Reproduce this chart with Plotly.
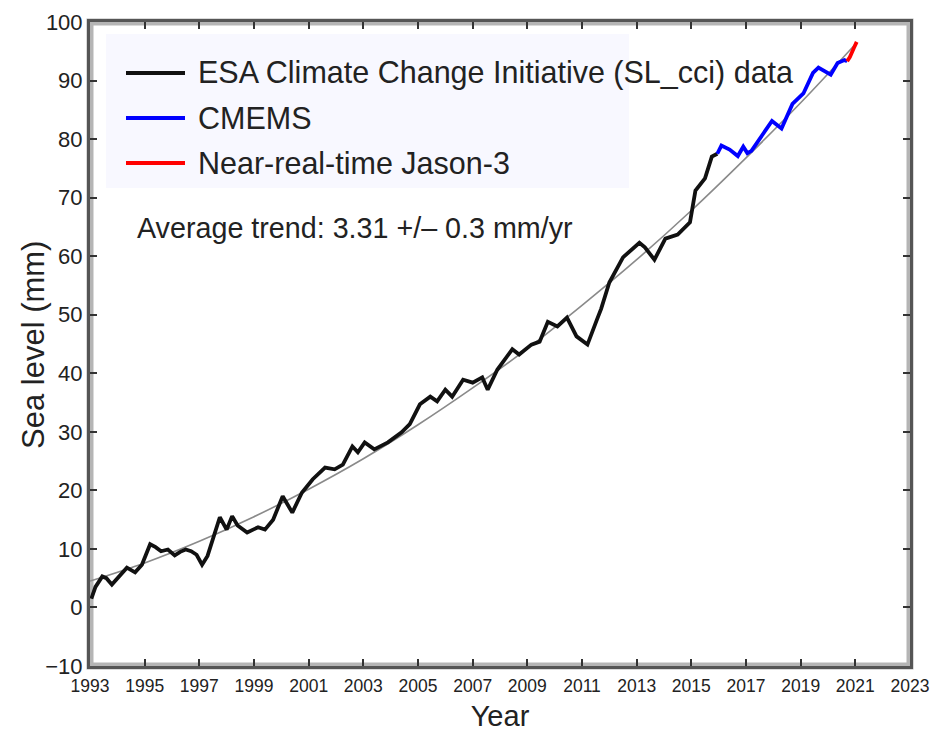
import plotly.graph_objects as go

# ESA Climate Change Initiative (SL_cci) global mean sea level, mm
esa_year = [1993.05, 1993.2, 1993.45, 1993.6, 1993.8, 1994.05, 1994.35, 1994.65, 1994.9,
            1995.2, 1995.4, 1995.6, 1995.85, 1996.1, 1996.3, 1996.5, 1996.7, 1996.9,
            1997.1, 1997.3, 1997.45, 1997.75, 1998.0, 1998.2, 1998.4, 1998.75, 1999.15,
            1999.4, 1999.7, 2000.05, 2000.4, 2000.75, 2001.15, 2001.6, 2001.95, 2002.25,
            2002.6, 2002.8, 2003.05, 2003.4, 2003.9, 2004.4, 2004.7, 2005.07, 2005.45,
            2005.7, 2006.0, 2006.25, 2006.65, 2007.0, 2007.35, 2007.55, 2007.9, 2008.45,
            2008.7, 2009.15, 2009.45, 2009.75, 2010.1, 2010.45, 2010.8, 2011.2, 2011.55,
            2011.7, 2012.0, 2012.5, 2013.1, 2013.3, 2013.65, 2014.05, 2014.5, 2014.95,
            2015.15, 2015.5, 2015.75, 2015.95]
esa_level = [1.5, 3.5, 5.3, 5.0, 3.9, 5.2, 6.8, 6.0, 7.3,
             10.8, 10.3, 9.6, 9.9, 8.9, 9.5, 9.9, 9.6, 9.0,
             7.3, 8.8, 11.1, 15.4, 13.3, 15.6, 14.0, 12.8, 13.7,
             13.3, 15.0, 19.0, 16.2, 19.6, 21.9, 23.9, 23.6, 24.4,
             27.5, 26.5, 28.2, 27.0, 28.2, 29.9, 31.3, 34.7, 36.0,
             35.2, 37.2, 36.0, 38.9, 38.4, 39.3, 37.2, 40.6, 44.1,
             43.2, 44.9, 45.4, 48.8, 48.0, 49.5, 46.3, 44.9, 49.2,
             51.0, 55.5, 59.8, 62.3, 61.5, 59.4, 63.0, 63.7, 65.8,
             71.2, 73.3, 77.0, 77.5]

# CMEMS record
cmems_year = [2015.95, 2016.1, 2016.4, 2016.7, 2016.9, 2017.05, 2017.2, 2017.5,
              2017.75, 2017.95, 2018.3, 2018.7, 2019.1, 2019.45, 2019.65, 2020.1,
              2020.35, 2020.6, 2020.7]
cmems_level = [77.5, 78.9, 78.2, 77.1, 78.7, 77.6, 78.0, 80.0,
               81.5, 83.1, 81.8, 86.0, 87.8, 91.3, 92.2, 91.0,
               93.0, 93.5, 93.3]

# Near-real-time Jason-3
nrt_year = [2020.7, 2020.8, 2020.95, 2021.05]
nrt_level = [93.3, 94.0, 95.6, 96.6]

# Fitted trend curve
trend_year = [1993, 1995, 1997, 1999, 2001, 2003, 2005, 2007, 2009, 2011,
              2013, 2015, 2017, 2019, 2021]
trend_level = [4.5, 7.6, 11.3, 15.5, 20.2, 25.4, 31.2, 37.5, 44.2, 51.6,
               59.4, 67.8, 76.8, 86.2, 96.2]

series_names = ["ESA Climate Change Initiative (SL_cci) data", "CMEMS",
                "Near-real-time Jason-3"]
series_colors = ["#111111", "#0000ff", "#ff0000"]
trend_text = "Average trend: 3.31 +/\u2013 0.3 mm/yr"

x_ticks = list(range(1993, 2024, 2))
y_ticks = list(range(-10, 101, 10))

FONT = "Liberation Sans, Arial, Helvetica, sans-serif"

fig = go.Figure()
fig.add_trace(go.Scatter(x=trend_year, y=trend_level, mode="lines",
                         line=dict(color="#8a8a8a", width=1.6, shape="spline"),
                         showlegend=False, hoverinfo="skip"))
for xs, ys, name, col in zip([esa_year, cmems_year, nrt_year],
                             [esa_level, cmems_level, nrt_level],
                             series_names, series_colors):
    fig.add_trace(go.Scatter(x=xs, y=ys, mode="lines", name=name,
                             line=dict(color=col, width=3.8),
                             showlegend=False))

# Legend panel drawn in paper coordinates
L, R, T, B = 90, 910, 22, 666


def px(x):
    return (x - L) / (R - L)


def py(y):
    return (B - y) / (B - T)


shapes = [
    dict(type="rect", xref="paper", yref="paper", x0=px(106), x1=px(629),
         y0=py(188), y1=py(34), fillcolor="#f8f8ff", line=dict(width=0), layer="below"),
    dict(type="rect", xref="paper", yref="paper", x0=0, x1=1, y0=0, y1=1,
         line=dict(color="#b5b5b5", width=7), layer="below"),
]
annotations = []
for i, (name, col) in enumerate(zip(series_names, series_colors)):
    yy = py(73 + 45 * i)
    shapes.append(dict(type="line", xref="paper", yref="paper", x0=px(126), x1=px(185),
                       y0=yy, y1=yy, line=dict(color=col, width=4)))
    annotations.append(dict(xref="paper", yref="paper", x=px(196), y=yy, text=name,
                            showarrow=False, xanchor="left", yanchor="middle",
                            font=dict(family=FONT, size=30.5, color="#222")))
annotations.append(dict(xref="paper", yref="paper", x=px(135), y=py(228), text=trend_text,
                        showarrow=False, xanchor="left", yanchor="middle",
                        font=dict(family=FONT, size=28.7, color="#222")))
# y-axis title
annotations.append(dict(xref="paper", yref="paper", x=px(33), y=py(345),
                        text="Sea level (mm)", textangle=-90, showarrow=False,
                        xanchor="center", yanchor="middle",
                        font=dict(family=FONT, size=31, color="#222")))

axis_common = dict(showline=True, linecolor="#555", linewidth=3, mirror="ticks",
                   ticks="inside", ticklen=7, tickwidth=2, tickcolor="#333",
                   showgrid=False, zeroline=False, automargin=False)

fig.update_layout(
    width=931, height=732,
    margin=dict(l=L, r=931 - R, t=T, b=732 - B),
    paper_bgcolor="white", plot_bgcolor="white",
    font=dict(family=FONT, color="#222"),
    shapes=shapes, annotations=annotations,
    xaxis=dict(range=[1993, 2023], tickvals=x_ticks,
               ticktext=[str(v) for v in x_ticks],
               tickfont=dict(size=17.5, color="#222"), ticklabelstandoff=2,
               title=dict(text="Year", font=dict(size=29, color="#222"), standoff=19),
               **axis_common),
    yaxis=dict(range=[-10, 100], tickvals=y_ticks,
               tickfont=dict(size=22, color="#222"),
               **axis_common),
)

fig.write_html("out.html")
